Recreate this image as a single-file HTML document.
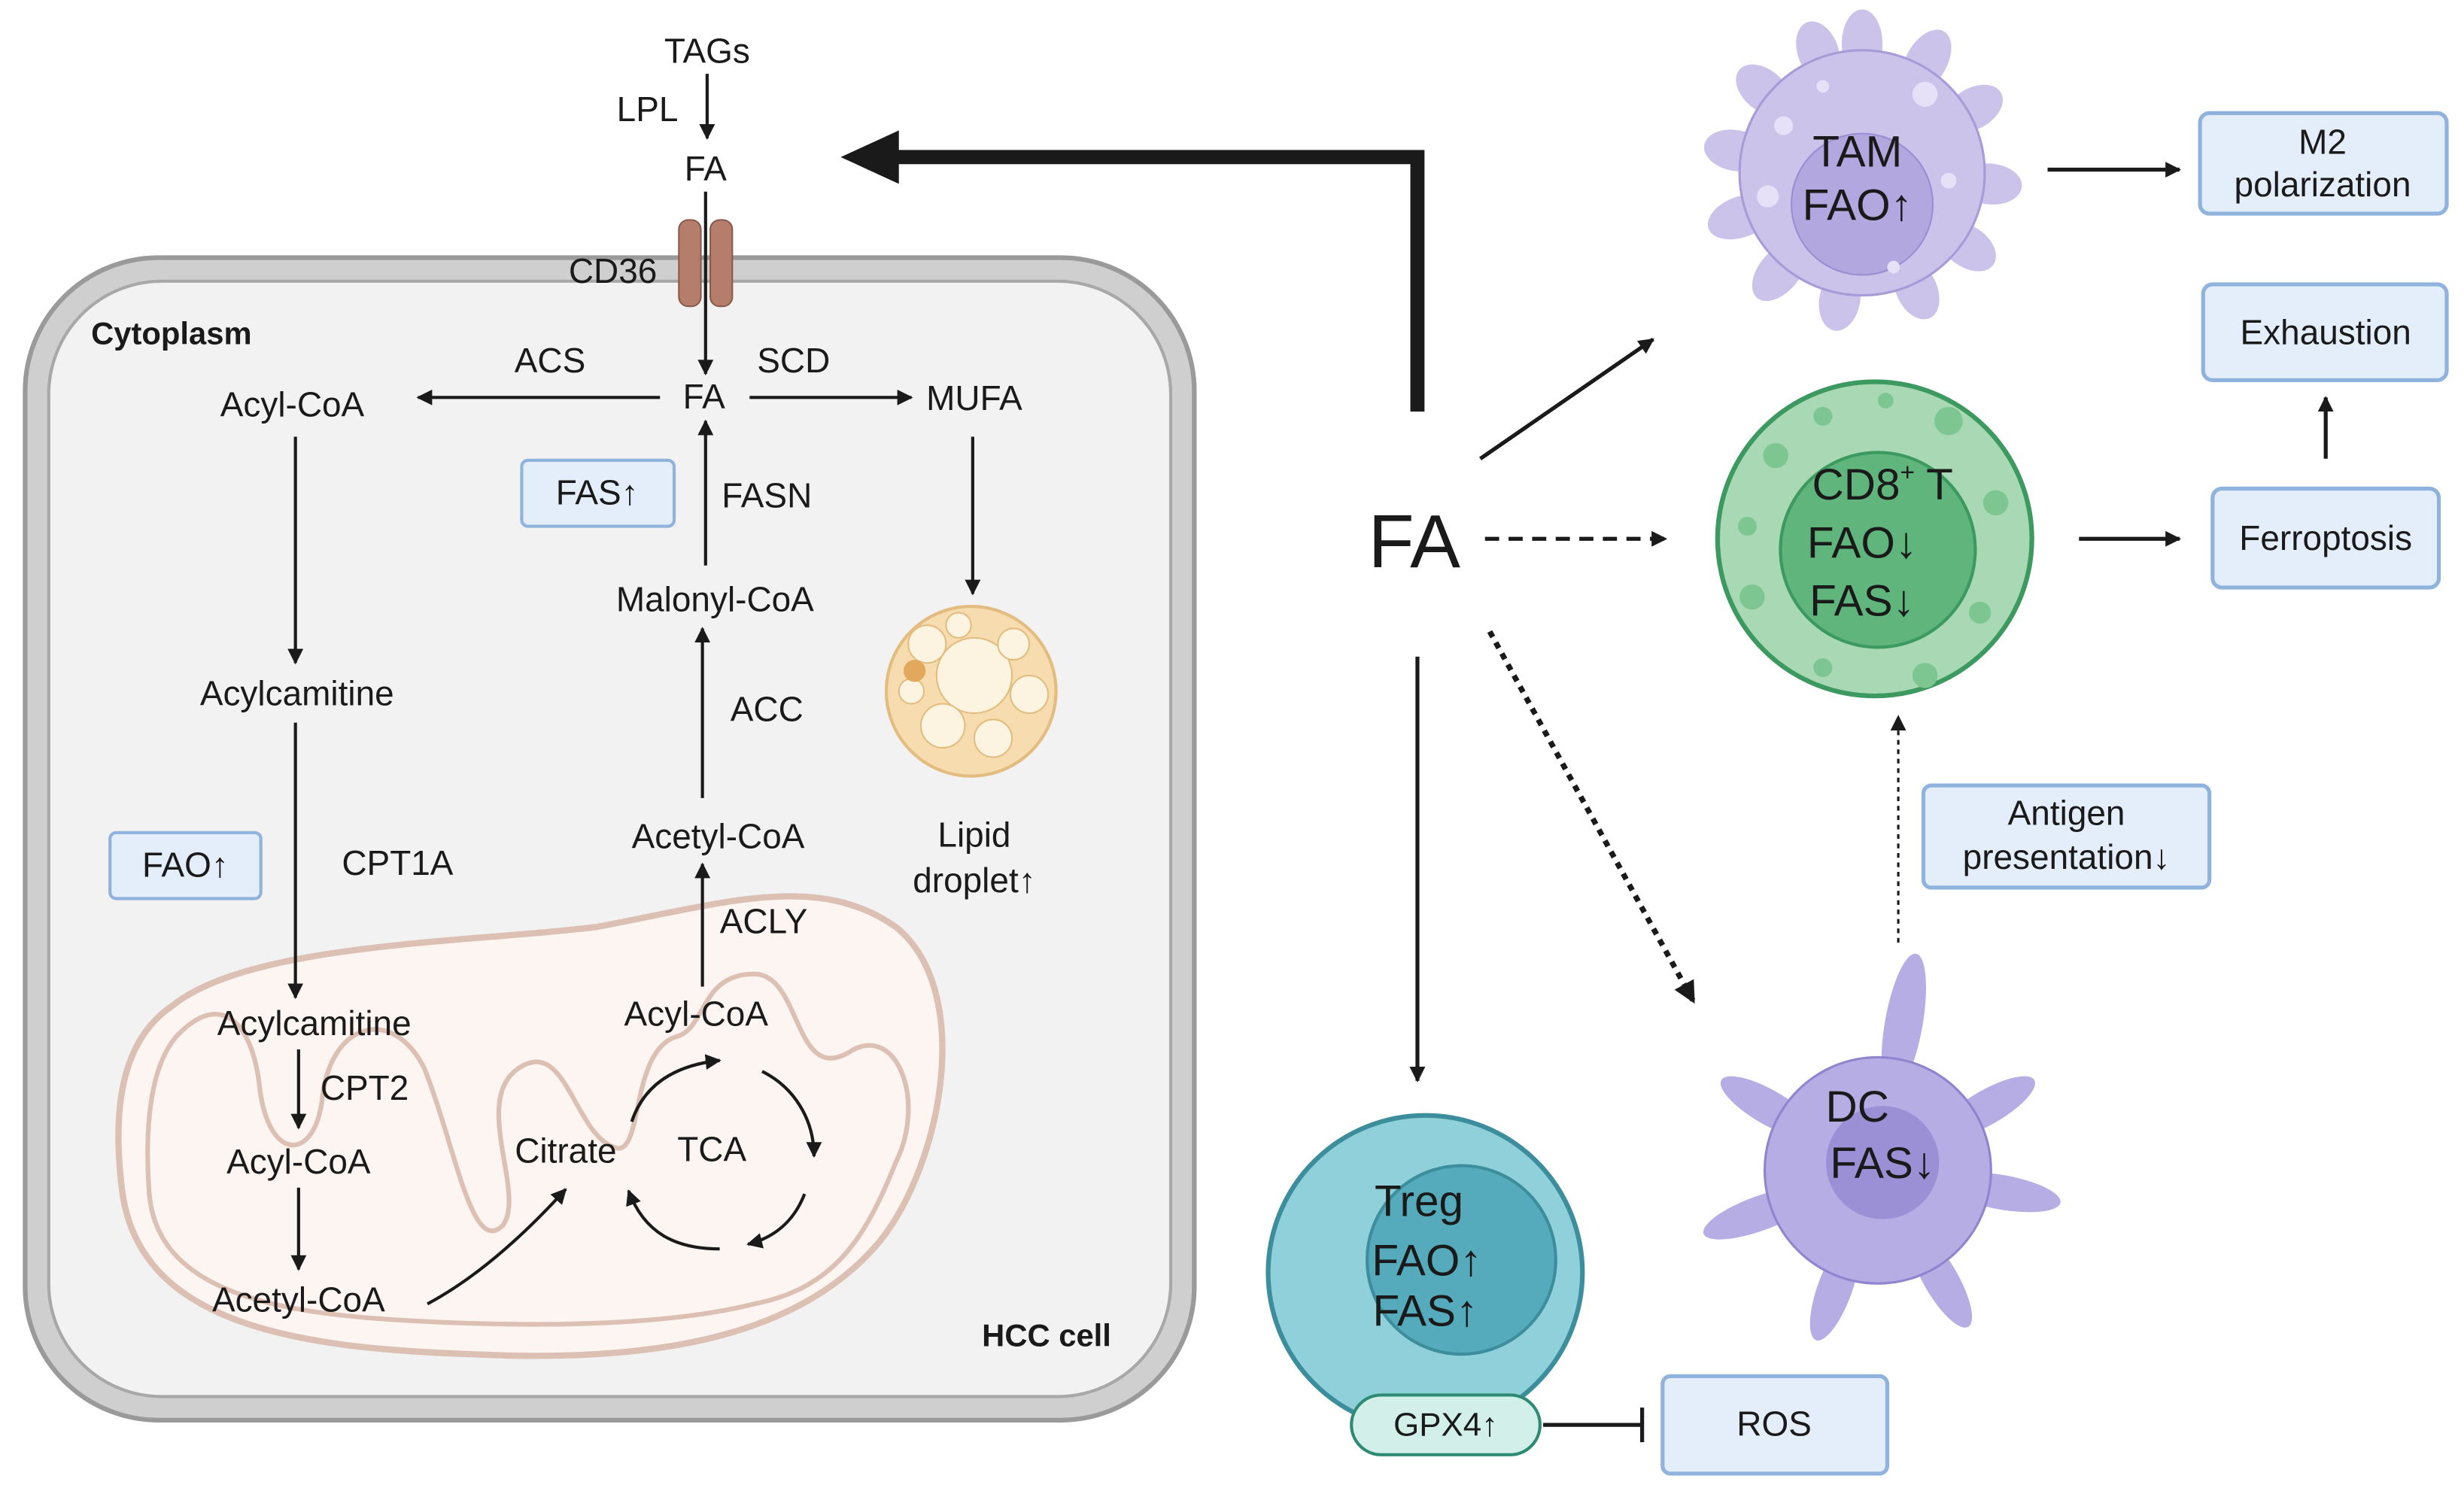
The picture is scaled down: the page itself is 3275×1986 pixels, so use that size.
<!DOCTYPE html>
<html><head><meta charset="utf-8"><style>
html,body{margin:0;padding:0;background:#fff}
svg{display:block}
text{font-family:"Liberation Sans",sans-serif;fill:#1a1a1a}
</style></head><body>
<svg width="3275" height="1986" viewBox="0 0 1568 951" preserveAspectRatio="none" xmlns="http://www.w3.org/2000/svg">
<defs>
<marker id="ah" markerWidth="10" markerHeight="10" refX="9" refY="5" orient="auto" markerUnits="userSpaceOnUse"><path d="M0,0 L10,5 L0,10 Z" fill="#1a1a1a"/></marker>
<marker id="ah2" markerWidth="14" markerHeight="14" refX="13" refY="7" orient="auto" markerUnits="userSpaceOnUse"><path d="M0,0 L14,7 L0,14 Z" fill="#1a1a1a"/></marker>
</defs>
<rect x="16" y="164" width="744" height="740" rx="85" fill="#cfcfcf" stroke="#9a9a9a" stroke-width="3"/>
<rect x="31" y="179" width="714" height="710" rx="72" fill="#f2f2f2" stroke="#a8a8a8" stroke-width="2"/>
<path d="M110,640 C160,600 300,600 380,590 C460,575 520,555 570,590 C620,630 600,740 560,790 C510,850 420,868 300,862 C180,858 90,840 78,760 C70,700 80,660 110,640 Z" fill="#fcf5f2" stroke="#dcc0b4" stroke-width="4"/>
<path d="M112,660 C140,630 160,650 165,690 C170,740 200,740 205,700 C210,650 250,640 270,680 C290,730 300,800 320,780 C335,760 300,700 330,680 C360,660 365,720 390,730 C410,740 400,670 430,660 C450,655 445,620 480,620 C510,620 505,690 540,670 C570,650 590,700 570,740 C550,790 530,820 480,830 C420,845 330,845 250,840 C170,835 100,820 95,760 C92,720 95,680 112,660 Z" fill="none" stroke="#dcc0b4" stroke-width="3"/>
<rect x="432" y="140" width="14" height="55" rx="6" fill="#b57d6c" stroke="#8a5a4b"/>
<rect x="452" y="140" width="14" height="55" rx="6" fill="#b57d6c" stroke="#8a5a4b"/>
<g font-size="22" text-anchor="middle">
<text x="450" y="40">TAGs</text>
<text x="412" y="77">LPL</text>
<text x="449" y="115">FA</text>
<text x="390" y="180">CD36</text>
<text x="350" y="237">ACS</text>
<text x="505" y="237">SCD</text>
<text x="448" y="260">FA</text>
<text x="186" y="265">Acyl-CoA</text>
<text x="620" y="261">MUFA</text>
<text x="488" y="323">FASN</text>
<text x="455" y="389">Malonyl-CoA</text>
<text x="488" y="459">ACC</text>
<text x="457" y="540">Acetyl-CoA</text>
<text x="486" y="594">ACLY</text>
<text x="189" y="449">Acylcamitine</text>
<text x="253" y="557">CPT1A</text>
<text x="620" y="539">Lipid</text>
<text x="620" y="568">droplet↑</text>
<text x="200" y="659">Acylcamitine</text>
<text x="232" y="700">CPT2</text>
<text x="190" y="747">Acyl-CoA</text>
<text x="190" y="835">Acetyl-CoA</text>
<text x="360" y="740">Citrate</text>
<text x="453" y="739">TCA</text>
<text x="443" y="653">Acyl-CoA</text>
</g>
<text x="58" y="219" font-size="20" font-weight="bold">Cytoplasm</text>
<text x="666" y="857" font-size="20" font-weight="bold" text-anchor="middle">HCC cell</text>
<rect x="332" y="293" width="97" height="42" rx="4" fill="#e3eefa" stroke="#8fb3dc" stroke-width="2"/>
<text x="380" y="321" font-size="22" text-anchor="middle">FAS↑</text>
<rect x="70" y="530" width="96" height="42" rx="4" fill="#e3eefa" stroke="#8fb3dc" stroke-width="2"/>
<text x="118" y="558" font-size="22" text-anchor="middle">FAO↑</text>
<g stroke="#1a1a1a" stroke-width="2" fill="none" marker-end="url(#ah)">
<line x1="450" y1="47" x2="450" y2="88"/>
<line x1="449" y1="122" x2="449" y2="238"/>
<line x1="420" y1="253" x2="266" y2="253"/>
<line x1="477" y1="253" x2="580" y2="253"/>
<line x1="449" y1="360" x2="449" y2="268"/>
<line x1="447" y1="508" x2="447" y2="400"/>
<line x1="447" y1="628" x2="447" y2="550"/>
<line x1="188" y1="278" x2="188" y2="422"/>
<line x1="188" y1="460" x2="188" y2="635"/>
<line x1="619" y1="278" x2="619" y2="378"/>
<line x1="190" y1="668" x2="190" y2="718"/>
<line x1="190" y1="756" x2="190" y2="808"/>
<path d="M272,830 C300,815 330,790 360,757"/>
<path d="M402,714 C410,690 430,678 458,675"/>
<path d="M485,682 C505,692 518,712 518,736"/>
<path d="M512,760 C505,778 492,788 476,792"/>
<path d="M458,795 C430,795 410,785 400,758"/>
</g>
<circle cx="618" cy="440" r="54" fill="#f6dcae" stroke="#e3bd80" stroke-width="2"/>
<g fill="#fdf3e1" stroke="#e3bd80">
<circle cx="620" cy="430" r="24"/><circle cx="590" cy="410" r="12"/><circle cx="645" cy="410" r="10"/><circle cx="655" cy="442" r="12"/>
<circle cx="600" cy="462" r="14"/><circle cx="632" cy="470" r="12"/><circle cx="580" cy="440" r="8"/><circle cx="610" cy="398" r="8"/>
</g>
<circle cx="582" cy="427" r="7" fill="#e2a85c"/>
<path d="M902,262 L902,100 L570,100" stroke="#1a1a1a" stroke-width="9" fill="none"/>
<path d="M535,100 L572,83 L572,117 Z" fill="#1a1a1a"/>
<text x="900" y="361" font-size="48" text-anchor="middle">FA</text>
<g stroke="#1a1a1a" stroke-width="2.5" fill="none">
<line x1="942" y1="292" x2="1052" y2="216" marker-end="url(#ah)"/>
<line x1="945" y1="343" x2="1060" y2="343" stroke-dasharray="9,6" marker-end="url(#ah)"/>
<line x1="948" y1="402" x2="1078" y2="638" stroke-dasharray="4,4" stroke-width="3.5" marker-end="url(#ah2)"/>
<line x1="902" y1="418" x2="902" y2="688" marker-end="url(#ah)"/>
<line x1="1303" y1="108" x2="1387" y2="108" marker-end="url(#ah)"/>
<line x1="1323" y1="343" x2="1387" y2="343" marker-end="url(#ah)"/>
<line x1="1480" y1="292" x2="1480" y2="253" marker-end="url(#ah)"/>
<line x1="1208" y1="600" x2="1208" y2="456" stroke-dasharray="3,3" stroke-width="1.5" marker-end="url(#ah)"/>
<line x1="982" y1="907" x2="1044" y2="907"/>
<line x1="1045" y1="896" x2="1045" y2="918"/>
</g>
<g transform="translate(1185,110)" fill="#cbc3ea">
<ellipse cx="0" cy="-82" rx="13" ry="22"/>
<ellipse cx="0" cy="-82" rx="13" ry="22" transform="rotate(30)"/>
<ellipse cx="0" cy="-82" rx="13" ry="20" transform="rotate(60)"/>
<ellipse cx="0" cy="-82" rx="13" ry="20" transform="rotate(95)"/>
<ellipse cx="0" cy="-82" rx="13" ry="20" transform="rotate(125)"/>
<ellipse cx="0" cy="-82" rx="13" ry="20" transform="rotate(155)"/>
<ellipse cx="0" cy="-82" rx="13" ry="20" transform="rotate(190)"/>
<ellipse cx="0" cy="-82" rx="13" ry="22" transform="rotate(220)"/>
<ellipse cx="0" cy="-82" rx="13" ry="22" transform="rotate(250)"/>
<ellipse cx="0" cy="-82" rx="13" ry="20" transform="rotate(280)"/>
<ellipse cx="0" cy="-82" rx="13" ry="20" transform="rotate(310)"/>
<ellipse cx="0" cy="-82" rx="13" ry="20" transform="rotate(340)"/>
<circle r="78" stroke="#a99ad8" stroke-width="1.5"/>
<circle cx="0" cy="20" r="45" fill="#b2a7de" stroke="#9a8dd2"/>
<g fill="#e6e1f6"><circle cx="-50" cy="-30" r="6"/><circle cx="40" cy="-50" r="8"/><circle cx="55" cy="5" r="5"/><circle cx="-60" cy="15" r="7"/><circle cx="-25" cy="-55" r="4"/><circle cx="20" cy="60" r="4"/></g>
</g>
<text x="1182" y="106" font-size="28" text-anchor="middle">TAM</text>
<text x="1182" y="140" font-size="28" text-anchor="middle">FAO↑</text>
<circle cx="1193" cy="343" r="100" fill="#a8d8b4" stroke="#3c9a60" stroke-width="3"/>
<g fill="#7dc692"><circle cx="1130" cy="290" r="8"/><circle cx="1160" cy="265" r="6"/><circle cx="1240" cy="268" r="9"/><circle cx="1270" cy="320" r="8"/><circle cx="1260" cy="390" r="7"/><circle cx="1225" cy="430" r="8"/><circle cx="1160" cy="425" r="6"/><circle cx="1115" cy="380" r="8"/><circle cx="1112" cy="335" r="6"/><circle cx="1200" cy="255" r="5"/></g>
<circle cx="1195" cy="350" r="62" fill="#5fb57b" stroke="#3c9a60" stroke-width="2"/>
<text x="1198" y="318" font-size="28" text-anchor="middle">CD8<tspan font-size="16" dy="-12">+</tspan><tspan dy="12"> T</tspan></text>
<text x="1185" y="355" font-size="28" text-anchor="middle">FAO↓</text>
<text x="1185" y="392" font-size="28" text-anchor="middle">FAS↓</text>
<g transform="translate(1195,745)" fill="#b6ade5">
<ellipse cx="0" cy="-95" rx="12" ry="45" transform="rotate(10)"/>
<ellipse cx="0" cy="-80" rx="11" ry="35" transform="rotate(60)"/>
<ellipse cx="0" cy="-80" rx="11" ry="38" transform="rotate(100)"/>
<ellipse cx="0" cy="-80" rx="11" ry="35" transform="rotate(150)"/>
<ellipse cx="0" cy="-80" rx="11" ry="35" transform="rotate(200)"/>
<ellipse cx="0" cy="-80" rx="11" ry="38" transform="rotate(250)"/>
<ellipse cx="0" cy="-80" rx="11" ry="35" transform="rotate(300)"/>
<circle r="72" stroke="#9084cf" stroke-width="1.5"/>
<circle cx="3" cy="-5" r="36" fill="#9b8fd5"/>
</g>
<text x="1182" y="714" font-size="28" text-anchor="middle">DC</text>
<text x="1198" y="750" font-size="28" text-anchor="middle">FAS↓</text>
<circle cx="907" cy="810" r="100" fill="#8fd0da" stroke="#3d8e9c" stroke-width="3"/>
<circle cx="930" cy="802" r="60" fill="#55abbb" stroke="#3d8e9c" stroke-width="2"/>
<text x="903" y="774" font-size="28" text-anchor="middle">Treg</text>
<text x="908" y="812" font-size="28" text-anchor="middle">FAO↑</text>
<text x="907" y="844" font-size="28" text-anchor="middle">FAS↑</text>
<rect x="860" y="888" width="120" height="38" rx="19" fill="#d2efe9" stroke="#2e8a74" stroke-width="2"/>
<text x="920" y="914" font-size="21" text-anchor="middle">GPX4↑</text>
<g fill="#e3eefa" stroke="#8fb3dc" stroke-width="2.5">
<rect x="1400" y="72" width="157" height="64" rx="6"/>
<rect x="1402" y="181" width="155" height="61" rx="6"/>
<rect x="1408" y="311" width="144" height="63" rx="6"/>
<rect x="1224" y="500" width="182" height="65" rx="5"/>
<rect x="1058" y="876" width="143" height="62" rx="5"/>
</g>
<g font-size="22" text-anchor="middle">
<text x="1478" y="98">M2</text>
<text x="1478" y="125">polarization</text>
<text x="1480" y="219">Exhaustion</text>
<text x="1480" y="350">Ferroptosis</text>
<text x="1315" y="525">Antigen</text>
<text x="1315" y="553">presentation↓</text>
<text x="1129" y="914">ROS</text>
</g>
</svg>
</body></html>
